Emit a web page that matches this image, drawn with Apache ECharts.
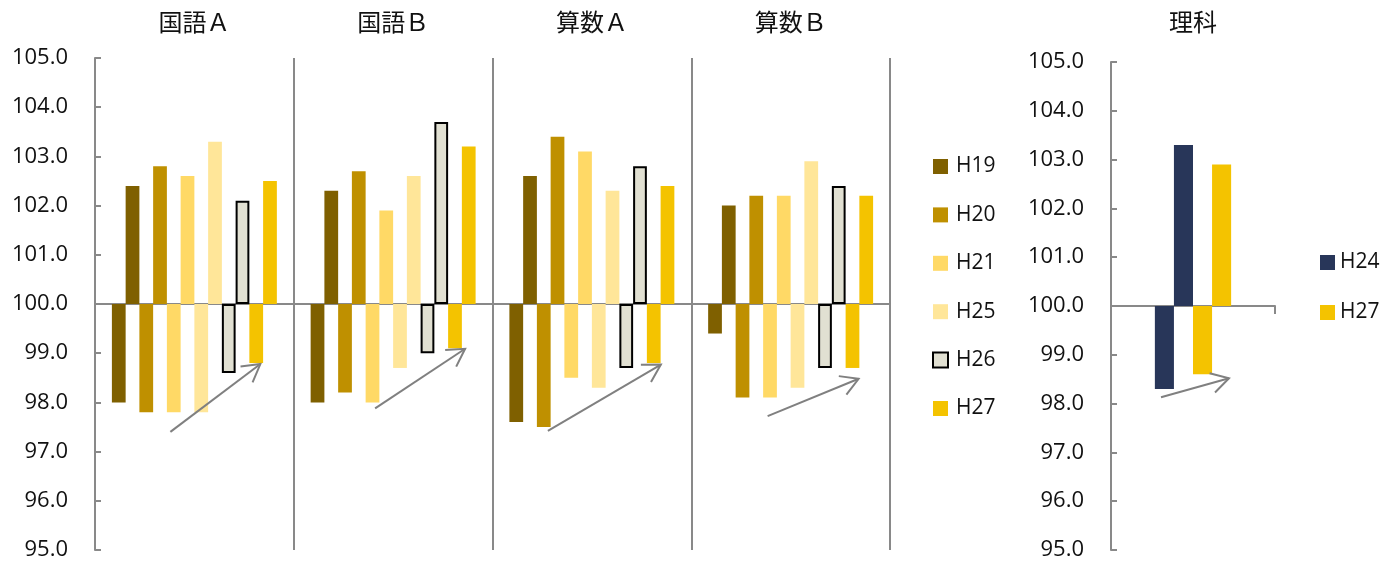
<!DOCTYPE html>
<html>
<head>
<meta charset="utf-8">
<script src="https://cdn.jsdelivr.net/npm/echarts@6/dist/echarts.min.js"></script>
<style>
  html, body { margin: 0; padding: 0; background: #ffffff; }
  #chart { width: 1399px; height: 563px; }
</style>
</head>
<body>
<div id="chart"></div>
<script>
// Subjects of the main panel and of the science panel
const categories = ['国語Ａ', '国語Ｂ', '算数Ａ', '算数Ｂ'];
const categoriesSci = ['理科'];

// Survey years shown in the main panel
const yearsMain = ['H19', 'H20', 'H21', 'H25', 'H26', 'H27'];

// Lower / upper values per year, one entry per subject (国語Ａ, 国語Ｂ, 算数Ａ, 算数Ｂ)
const lowH19  = [98.0, 98.0, 97.6, 99.4];
const highH19 = [102.4, 102.3, 102.6, 102.0];
const lowH20  = [97.8, 98.2, 97.5, 98.1];
const highH20 = [102.8, 102.7, 103.4, 102.2];
const lowH21  = [97.8, 98.0, 98.5, 98.1];
const highH21 = [102.6, 101.9, 103.1, 102.2];
const lowH25  = [97.8, 98.7, 98.3, 98.3];
const highH25 = [103.3, 102.6, 102.3, 102.9];
const lowH26  = [98.6, 99.0, 98.7, 98.7];
const highH26 = [102.1, 103.7, 102.8, 102.4];
const lowH27  = [98.8, 99.1, 98.8, 98.7];
const highH27 = [102.5, 103.2, 102.4, 102.2];

// Science panel (H24, H27)
const yearsSci = ['H24', 'H27'];
const lowSciH24  = [98.3];
const highSciH24 = [103.3];
const lowSciH27  = [98.6];
const highSciH27 = [102.9];

// Value axis: bars grow from the 100.0 baseline
const BASE = 100;
const yMin = 95;
const yMax = 105;
const yStep = 1;

const mainPairs = {
  H19: [lowH19, highH19], H20: [lowH20, highH20], H21: [lowH21, highH21],
  H25: [lowH25, highH25], H26: [lowH26, highH26], H27: [lowH27, highH27]
};
const sciPairs = { H24: [lowSciH24, highSciH24], H27: [lowSciH27, highSciH27] };

const colors = {
  H19: '#7F6000', H20: '#BF9000', H21: '#FFD966', H25: '#FFE699',
  H26: '#E1E0D2', H27: '#F4C300', H24: '#283659'
};

const AXIS_GRAY = '#898989';
const NUM_FONT = '"Open Sans", "Liberation Sans", sans-serif';
const JP_FONT = '"Noto Sans CJK JP", sans-serif';

function toDev(arr) { return arr.map(v => +(v - BASE).toFixed(3)); }

function barSeries(year, values, xi, yi, gap) {
  const style = { color: colors[year] };
  if (year === 'H26') { style.borderColor = '#000000'; style.borderWidth = 2; }
  return {
    type: 'bar',
    name: year,
    xAxisIndex: xi,
    yAxisIndex: yi,
    data: toDev(values),
    barGap: '0%',
    barCategoryGap: gap,
    itemStyle: style,
    emphasis: { disabled: true }
  };
}

const series = [];
yearsMain.forEach(y => {
  series.push(barSeries(y, mainPairs[y][0], 0, 0, '17%'));
  series.push(barSeries(y, mainPairs[y][1], 0, 0, '17%'));
});
yearsSci.forEach(y => {
  series.push(barSeries(y, sciPairs[y][0], 2, 1, '53.5%'));
  series.push(barSeries(y, sciPairs[y][1], 2, 1, '53.5%'));
});

function valueAxis(gridIndex) {
  return {
    type: 'value',
    gridIndex: gridIndex,
    min: yMin - BASE,
    max: yMax - BASE,
    interval: yStep,
    axisLine: { show: true, lineStyle: { color: AXIS_GRAY, width: 2 } },
    axisTick: { show: true, inside: true, length: 6, lineStyle: { color: AXIS_GRAY, width: 2 } },
    splitLine: { show: false },
    axisLabel: {
      margin: 27,
      color: '#111111',
      fontFamily: NUM_FONT,
      fontSize: 22,
      formatter: v => (v + BASE).toFixed(1)
    }
  };
}

const chart = echarts.init(document.getElementById('chart'), null, { renderer: 'canvas' });

chart.setOption({
  animation: false,
  backgroundColor: '#ffffff',
  grid: [
    { left: 95, top: 58, width: 795, height: 492 },
    { left: 1111, top: 62, width: 164, height: 488 }
  ],
  xAxis: [
    {
      type: 'category', gridIndex: 0, data: categories,
      axisLine: { onZero: true, lineStyle: { color: AXIS_GRAY, width: 2 } },
      axisTick: { show: true, alignWithLabel: false, length: 8, lineStyle: { color: AXIS_GRAY, width: 2 } },
      axisLabel: { show: false },
      splitLine: { show: true, lineStyle: { color: AXIS_GRAY, width: 2 } }
    },
    {
      type: 'category', gridIndex: 0, data: categories, position: 'top',
      axisLine: { show: false }, axisTick: { show: false }, splitLine: { show: false },
      axisLabel: { margin: 24, color: '#111111', fontFamily: JP_FONT, fontSize: 24 }
    },
    {
      type: 'category', gridIndex: 1, data: categoriesSci,
      axisLine: { onZero: true, lineStyle: { color: AXIS_GRAY, width: 2 } },
      axisTick: { show: true, length: 8, lineStyle: { color: AXIS_GRAY, width: 2 } },
      axisLabel: { show: false },
      splitLine: { show: false }
    },
    {
      type: 'category', gridIndex: 1, data: categoriesSci, position: 'top',
      axisLine: { show: false }, axisTick: { show: false }, splitLine: { show: false },
      axisLabel: { margin: 28, color: '#111111', fontFamily: JP_FONT, fontSize: 24 }
    }
  ],
  yAxis: [valueAxis(0), valueAxis(1)],
  legend: [
    {
      data: yearsMain,
      orient: 'vertical',
      left: 927,
      top: 151,
      padding: 5,
      itemWidth: 15,
      itemHeight: 15,
      itemGap: 27.4,
      icon: 'rect',
      selectedMode: false,
      textStyle: { color: '#111111', fontFamily: NUM_FONT, fontSize: 21, lineHeight: 20, padding: [0, 0, 0, 3] }
    },
    {
      data: yearsSci,
      orient: 'vertical',
      left: 1315,
      top: 247,
      padding: 5,
      itemWidth: 15,
      itemHeight: 15,
      itemGap: 29,
      icon: 'rect',
      selectedMode: false,
      textStyle: { color: '#111111', fontFamily: NUM_FONT, fontSize: 21, lineHeight: 20, padding: [0, 0, 0, 0] }
    }
  ],
  series: series
});

// Trend arrows: x as pixel offset from the subject's centre, y as a value on the scale
const arrows = [
  { xAxis: 0, yAxis: 0, cat: '国語Ａ', from: [-24, 97.40], to: [66, 98.78] },
  { xAxis: 0, yAxis: 0, cat: '国語Ｂ', from: [-18, 97.88], to: [72, 99.09] },
  { xAxis: 0, yAxis: 0, cat: '算数Ａ', from: [-44, 97.42], to: [69, 98.77] },
  { xAxis: 0, yAxis: 0, cat: '算数Ｂ', from: [-23, 97.72], to: [68, 98.48] },
  { xAxis: 2, yAxis: 1, cat: '理科',   from: [-32, 98.13], to: [36, 98.52] }
];

function arrowGraphics() {
  const out = [];
  const headLen = 20;
  const headAngle = Math.PI / 6;
  arrows.forEach(a => {
    const cx = chart.convertToPixel({ xAxisIndex: a.xAxis }, a.cat);
    const x1 = cx + a.from[0];
    const y1 = chart.convertToPixel({ yAxisIndex: a.yAxis }, a.from[1] - BASE);
    const x2 = cx + a.to[0];
    const y2 = chart.convertToPixel({ yAxisIndex: a.yAxis }, a.to[1] - BASE);
    const ang = Math.atan2(y2 - y1, x2 - x1);
    const p1 = [x2 - headLen * Math.cos(ang - headAngle), y2 - headLen * Math.sin(ang - headAngle)];
    const p2 = [x2 - headLen * Math.cos(ang + headAngle), y2 - headLen * Math.sin(ang + headAngle)];
    out.push({
      type: 'line', silent: true, z: 10,
      shape: { x1: x1, y1: y1, x2: x2, y2: y2 },
      style: { stroke: '#808080', lineWidth: 2 }
    });
    out.push({
      type: 'polyline', silent: true, z: 10,
      shape: { points: [p1, [x2, y2], p2] },
      style: { stroke: '#808080', lineWidth: 2, fill: null }
    });
  });
  return out;
}

chart.setOption({ graphic: arrowGraphics() });
</script>
</body>
</html>
